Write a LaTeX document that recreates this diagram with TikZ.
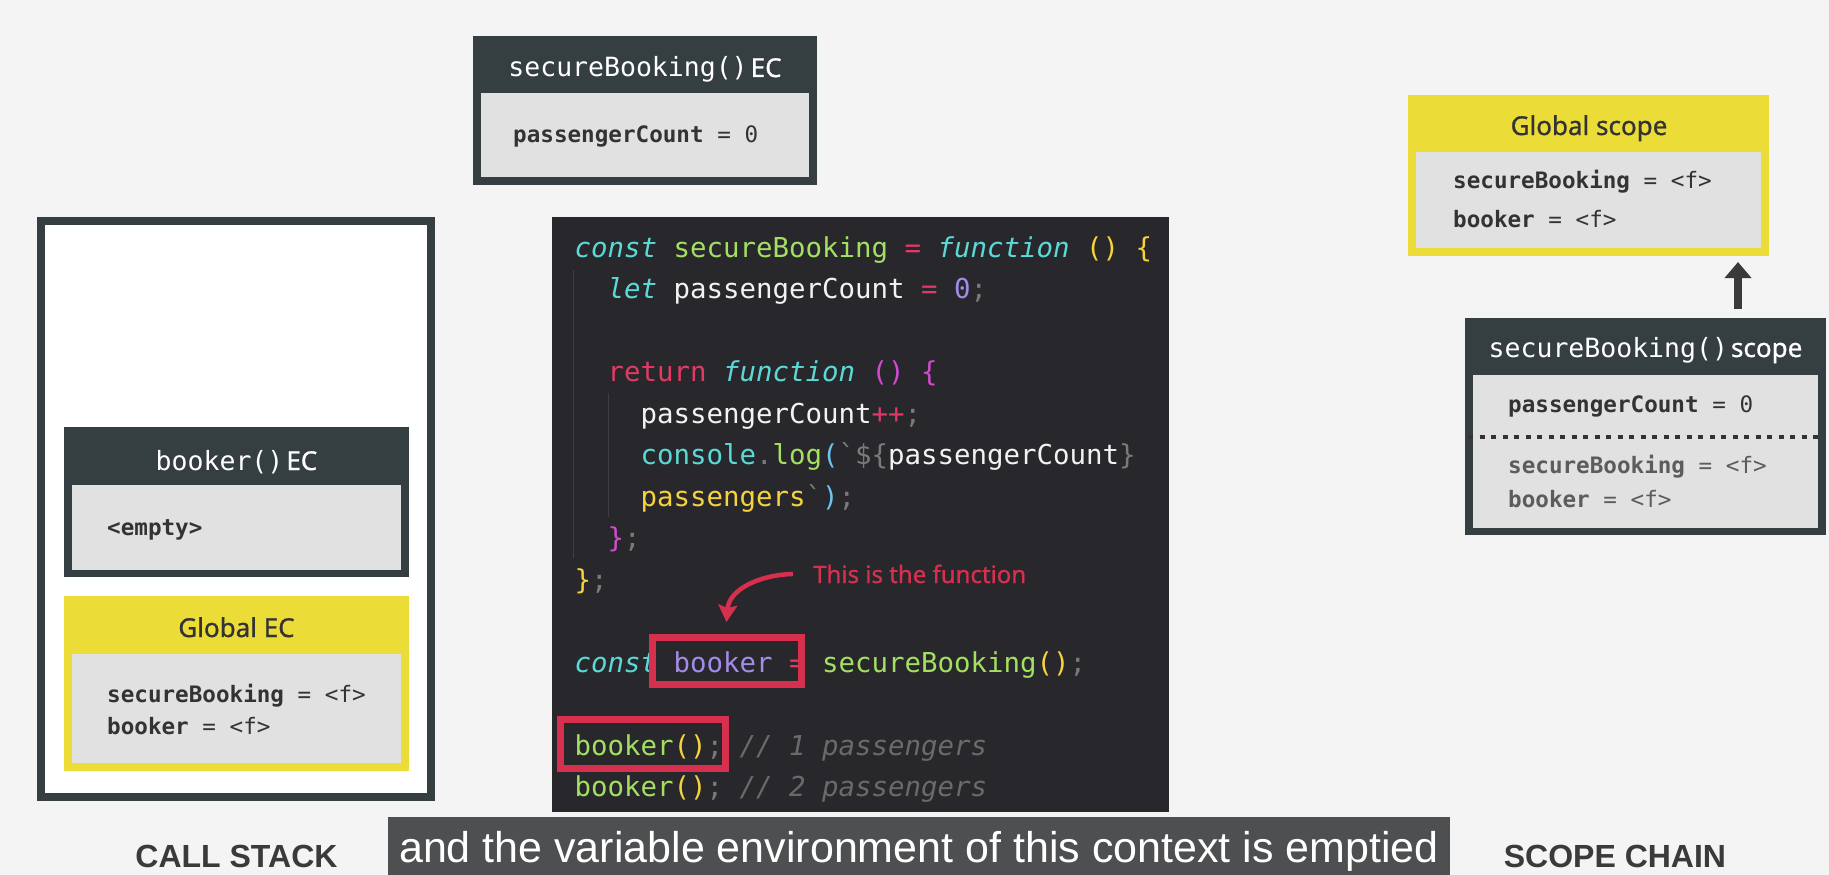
\documentclass[tikz,border=0pt]{standalone}
\usepackage{fontspec}
\setmainfont{Noto Sans}
\newfontfamily\medfont{Noto Sans}[FakeBold=0.9]
\newfontfamily\codefont{DejaVu Sans Mono}
\newfontfamily\capfont{Liberation Sans}
\usetikzlibrary{arrows.meta}
\definecolor{bg}{HTML}{F4F4F4}
\definecolor{dark}{HTML}{353E41}
\definecolor{yel}{HTML}{EBDC37}
\definecolor{lgray}{HTML}{E1E1E1}
\definecolor{txt}{HTML}{333333}
\definecolor{txtg}{HTML}{5C5C5C}
\definecolor{codebg}{HTML}{28272B}
\definecolor{guide}{HTML}{3E3E42}
\definecolor{ccyan}{HTML}{5BD9D6}
\definecolor{cgreen}{HTML}{A3E062}
\definecolor{cred}{HTML}{E03A66}
\definecolor{cyel}{HTML}{F5D33C}
\definecolor{cpurp}{HTML}{A48BE8}
\definecolor{cmag}{HTML}{D34AD0}
\definecolor{cgray}{HTML}{7A7A7A}
\definecolor{ccom}{HTML}{6A6A6A}
\definecolor{cwhite}{HTML}{F2F2F2}
\definecolor{cblue}{HTML}{6CC5F0}
\definecolor{hl}{HTML}{D7304F}
\definecolor{capbg}{HTML}{4E4F51}
\definecolor{arrowc}{HTML}{3A3A3A}
\newcommand\ttlmono[1]{{\codefont\fontsize{26.5}{32}\selectfont #1}}
\tikzset{
  boxbase/.style={anchor=north west, inner sep=0pt, outer sep=0pt, draw=none},
  darkbox/.style={boxbase, fill=dark},
  yelbox/.style={boxbase, fill=yel},
  graybox/.style={boxbase, fill=lgray},
  ttl/.style={anchor=base, inner sep=0pt, font=\medfont\fontsize{26}{32}\selectfont},
  varline/.style={anchor=base west, inner sep=0pt, text=txt, font=\codefont\fontsize{22.6}{27}\selectfont},
  codeline/.style={anchor=base west, inner sep=0pt, font=\codefont\fontsize{27.4}{33}\selectfont},
  hlbox/.style={draw=hl, line width=7pt, inner sep=0pt, outer sep=0pt},
  biglabel/.style={anchor=base, inner sep=0pt, text=arrowc, font=\capfont\bfseries\fontsize{32}{38}\selectfont},
  guideline/.style={draw=guide, line width=1.5pt},
}
\begin{document}
\begin{tikzpicture}[x=1pt,y=-1pt]
\useasboundingbox (0,0) rectangle (1829,875);
\fill[bg] (0,0) rectangle (1829,875);

% secureBooking() EC (top)
\node[darkbox, minimum width=344pt, minimum height=149pt] (ec1) at (473,36) {};
\node[graybox, minimum width=328pt, minimum height=84pt] (ec1in) at (481,93) {};
\node[ttl, text=white] (ec1t) at (645,77) {\ttlmono{secureBooking()}\hspace{3pt}EC};
\node[varline] (ec1v) at (513,142) {\textbf{passengerCount} = 0};

% Call stack
\node[boxbase, draw=dark, line width=8pt, fill=white, minimum width=390pt, minimum height=576pt] (cs) at (41,221) {};
\node[darkbox, minimum width=345pt, minimum height=150pt] (bec) at (64,427) {};
\node[graybox, minimum width=329pt, minimum height=85pt] (becin) at (72,485) {};
\node[ttl, text=white] (bect) at (236.5,470) {\ttlmono{booker()}\hspace{3pt}EC};
\node[varline] (becv) at (107,535) {\textbf{<empty>}};

\node[yelbox, minimum width=345pt, minimum height=175pt] (gec) at (64,596) {};
\node[graybox, minimum width=329pt, minimum height=109pt] (gecin) at (72,654) {};
\node[ttl, text=txt] (gect) at (236.5,637) {Global EC};
\node[varline] (gecv1) at (107,702) {\textbf{secureBooking} = <f>};
\node[varline] (gecv2) at (107,734) {\textbf{booker} = <f>};

% Code box
\node[boxbase, fill=codebg, minimum width=617pt, minimum height=595pt] (code) at (552,217) {};
\draw[guideline] (573.7,270) -- (573.7,558);
\draw[guideline] (608.5,393) -- (608.5,517);
\node[codeline] (l1) at (574.5,257) {\textcolor{ccyan}{\itshape const} \textcolor{cgreen}{secureBooking} \textcolor{cred}{=} \textcolor{ccyan}{\itshape function} \textcolor{cyel}{() \{}};
\node[codeline] (l2) at (607.5,298.5) {\textcolor{ccyan}{\itshape let} \textcolor{cwhite}{passengerCount} \textcolor{cred}{=} \textcolor{cpurp}{0}\textcolor{cgray}{;}};
\node[codeline] (l4) at (607.5,381.5) {\textcolor{cred}{return} \textcolor{ccyan}{\itshape function} \textcolor{cmag}{() \{}};
\node[codeline] (l5) at (640.5,423) {\textcolor{cwhite}{passengerCount}\textcolor{cred}{++}\textcolor{cgray}{;}};
\node[codeline] (l6) at (640.5,464.5) {\textcolor{ccyan}{console}\textcolor{cgray}{.}\textcolor{cgreen}{log}\textcolor{cblue}{(}\textcolor{cgray}{\textasciigrave\$\{}\textcolor{cwhite}{passengerCount}\textcolor{cgray}{\}}};
\node[codeline] (l7) at (640.5,506) {\textcolor{cyel}{passengers}\textcolor{cgray}{\textasciigrave}\textcolor{cblue}{)}\textcolor{cgray}{;}};
\node[codeline] (l8) at (607.5,547.5) {\textcolor{cmag}{\}}\textcolor{cgray}{;}};
\node[codeline] (l9) at (574.5,589) {\textcolor{cyel}{\}}\textcolor{cgray}{;}};
\node[codeline] (l11) at (574.5,672) {\textcolor{ccyan}{\itshape const} \textcolor{cpurp}{booker} \textcolor{cred}{=} \textcolor{cgreen}{secureBooking}\textcolor{cyel}{()}\textcolor{cgray}{;}};
\node[codeline] (l13) at (574.5,755) {\textcolor{cgreen}{booker}\textcolor{cyel}{()}\textcolor{cgray}{;} \textcolor{ccom}{\itshape // 1 passengers}};
\node[codeline] (l14) at (574.5,796.5) {\textcolor{cgreen}{booker}\textcolor{cyel}{()}\textcolor{cgray}{;} \textcolor{ccom}{\itshape // 2 passengers}};

\node[hlbox, minimum width=149pt, minimum height=47pt] (hl1) at (726.5,660.5) {};
\node[hlbox, minimum width=165pt, minimum height=49pt] (hl2) at (642.5,743.5) {};
\node[anchor=base west, inner sep=0pt, text=hl, font=\medfont\fontsize{24}{28}\selectfont] (lbl) at (813,583) {This is the function};
\coordinate (arS) at ([xshift=-20pt]lbl.west);
\coordinate (arE) at ([yshift=15pt]hl1.north);
\draw[hl, line width=4.5pt, -{Stealth[length=17pt,width=19pt,inset=3pt]}] (arS) .. controls (758,575) and (729,590) .. (arE);

% Scope chain
\node[yelbox, minimum width=361pt, minimum height=161pt] (gs) at (1408,95) {};
\node[graybox, minimum width=345pt, minimum height=96pt] (gsin) at (1416,152) {};
\node[ttl, text=txt] (gst) at (1589,135) {Global scope};
\node[varline] (gsv1) at (1453,188) {\textbf{secureBooking} = <f>};
\node[varline] (gsv2) at (1453,227) {\textbf{booker} = <f>};

\node[darkbox, minimum width=361pt, minimum height=217pt] (sc2) at (1465,318) {};
\node[graybox, minimum width=345pt, minimum height=153pt] (sc2in) at (1473,375) {};
\node[ttl, text=white] (sc2t) at (1645.5,357) {\ttlmono{secureBooking()}\hspace{3pt}scope};
\node[varline] (sc2v1) at (1508,412) {\textbf{passengerCount} = 0};
\draw[txt, line width=4.5pt, dash pattern=on 5pt off 6.5pt] ([yshift=14.5pt,xshift=-5pt]sc2in.west) -- ([yshift=14.5pt]sc2in.east);
\node[varline, text=txtg] (sc2v2) at (1508,473) {\textbf{secureBooking} = <f>};
\node[varline, text=txtg] (sc2v3) at (1508,507) {\textbf{booker} = <f>};

\draw[arrowc, line width=8pt, -{Triangle[length=16pt,width=26pt]}] ([xshift=-88pt,yshift=9pt]sc2.north east) -- ([xshift=-31pt,yshift=-6pt]gs.south east);

% Labels
\node[biglabel] (csl) at (236.5,867) {CALL STACK};
\node[biglabel] (scl) at (1615,867) {SCOPE CHAIN};

% Caption
\node[boxbase, fill=capbg, minimum width=1062pt, minimum height=58pt] (capbar) at (388,817) {};
\node[anchor=base, inner sep=0pt, text=white, font=\capfont\fontsize{43}{50}\selectfont] (capt) at (919,862) {and the variable environment of this context is emptied};
\end{tikzpicture}
\end{document}
